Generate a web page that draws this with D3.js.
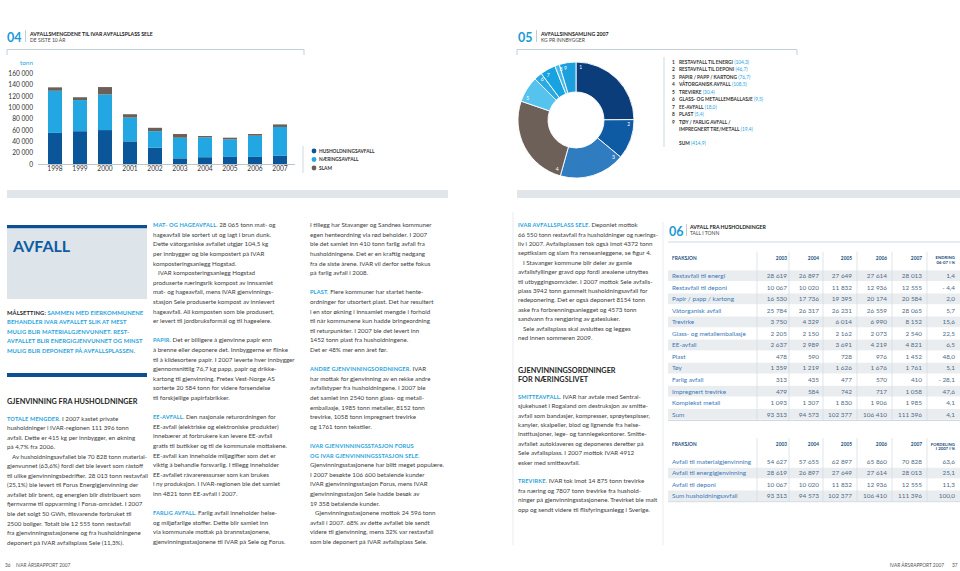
<!DOCTYPE html>
<html><head><meta charset="utf-8">
<script src="https://cdn.jsdelivr.net/npm/d3@7"></script>
<style>
body{margin:0;background:#fff}
svg{display:block;background:#fff}
text{font-family:Lato,"Noto Sans",sans-serif}
.body{font-size:6.2px;fill:#3c3c3c}
.rh{font-weight:700;fill:#27a3dc;font-size:5.6px;letter-spacing:0.15px}
.goal{font-weight:700;font-size:5.8px;fill:#27a3dc;letter-spacing:0.1px}
.hd{font-weight:700;font-size:7.3px;fill:#1e1e1e}
.small{font-size:4.8px;font-weight:700;fill:#333}
</style>
</head><body><svg id="c" width="960" height="571"></svg>
<script>
// ---------- DATA ----------
const years = ["1998","1999","2000","2001","2002","2003","2004","2005","2006","2007"];
const husholdning = [55000,58000,60000,40000,29000,10000,12000,12500,12500,15000];
const naering     = [74500,55000,63000,42000,29000,36500,35000,31000,37500,50500];
const slam        = [6000,5000,13000,6000,6000,6500,2500,3000,3000,4500];
const yTicks = [0,20000,40000,60000,80000,100000,120000,140000,160000];
const barLegend = ["HUSHOLDNINGSAVFALL","NÆRINGSAVFALL","SLAM"];

const donutNames = ["RESTAVFALL TIL ENERGI","RESTAVFALL TIL DEPONI","PAPIR / PAPP / KARTONG","VÅTORGANISK AVFALL","TREVIRKE","GLASS- OG METALLEMBALLASJE","EE-AVFALL","PLAST","TØY / FARLIG AVFALL /|IMPREGNERT TRE/METALL"];
const donutValues = [104.3,46.7,76.7,108.5,30.4,9.5,18.0,5.4,19.4];
const donutSum = 414.9;

const tableYears = ["2003","2004","2005","2006","2007"];
const t1Fractions = ["Restavfall til energi","Restavfall til deponi","Papir / papp / kartong","Våtorganisk avfall","Trevirke","Glass- og metallemballasje","EE-avfall","Plast","Tøy","Farlig avfall","Impregnert trevirke","Komplekst metall","Sum"];
const t1_2003 = [28619,10067,16530,25784,3750,2205,2637,478,1359,313,479,1093,93313];
const t1_2004 = [26897,10020,17736,26317,4329,2150,2989,590,1219,435,584,1307,94573];
const t1_2005 = [27649,11832,19395,26231,6014,2162,3691,728,1626,477,742,1830,102377];
const t1_2006 = [27614,12936,20174,26559,6990,2073,4219,976,1676,570,717,1906,106410];
const t1_2007 = [28013,12555,20584,28065,8152,2540,4821,1452,1761,410,1058,1985,111396];
const t1_endring = [1.4,-4.4,2.0,5.7,15.6,22.5,6.5,48.0,5.1,-28.1,47.6,4.1,4.1];

const t2Fractions = ["Avfall til materialgjenvinning","Avfall til energigjenvinning","Avfall til deponi","Sum husholdningsavfall"];
const t2_2003 = [54627,28619,10067,93313];
const t2_2004 = [57655,26897,10020,94573];
const t2_2005 = [62897,27649,11832,102377];
const t2_2006 = [65860,27614,12936,106410];
const t2_2007 = [70828,28013,12555,111396];
const t2_fordeling = [63.6,25.1,11.3,100.0];

// ---------- TEXT ----------
const goalLines = ["MÅLSETTING:| SAMMEN MED EIERKOMMUNENE","BEHANDLER IVAR AVFALLET SLIK AT MEST","MULIG BLIR MATERIALGJENVUNNET. REST-","AVFALLET BLIR ENERGIGJENVUNNET OG MINST","MULIG BLIR DEPONERT PÅ AVFALLSPLASSEN."];
const col1 = [
"§TOTALE MENGDER.§ I 2007 kastet private",
"husholdninger i IVAR-regionen 111 396 tonn",
"avfall. Dette er 415 kg per innbygger, en økning",
"på 4,7% fra 2006.",
">Av husholdningsavfallet ble 70 828 tonn material-",
"gjenvunnet (63,6%) fordi det ble levert som råstoff",
"til ulike gjenvinningsbedrifter. 28 013 tonn restavfall",
"(25,1%) ble levert til Forus Energigjenvinning der",
"avfallet blir brent, og energien blir distribuert som",
"fjernvarme til oppvarming i Forus-området. I 2007",
"ble det solgt 50 GWh, tilsvarende forbruket til",
"2500 boliger. Totalt ble 12 555 tonn restavfall",
"fra gjenvinningsstasjonene og fra husholdningene",
"deponert på IVAR avfallsplass Sele (11,3%)."];
const col2 = [
"§MAT- OG HAGEAVFALL.§ 28 065 tonn mat- og",
"hageavfall ble sortert ut og lagt i brun dunk.",
"Dette våtorganiske avfallet utgjør 104,5 kg",
"per innbygger og ble kompostert på IVAR",
"komposteringsanlegg Hogstad.",
">IVAR komposteringsanlegg Hogstad",
"produserte næringsrik kompost av innsamlet",
"mat- og hageavfall, mens IVAR gjenvinnings-",
"stasjon Sele produserte kompost av innlevert",
"hageavfall. All komposten som ble produsert,",
"er levert til jordbruksformål og til hageeiere.",
"",
"§PAPIR.§ Det er billigere å gjenvinne papir enn",
"å brenne eller deponere det. Innbyggerne er flinke",
"til å kildesortere papir. I 2007 leverte hver innbygger",
"gjennomsnittlig 76,7 kg papp, papir og drikke-",
"kartong til gjenvinning. Fretex Vest-Norge AS",
"sorterte 20 584 tonn for videre forsendelse",
"til forskjellige papirfabrikker.",
"",
"§EE-AVFALL.§ Den nasjonale returordningen for",
"EE-avfall (elektriske og elektroniske produkter)",
"innebærer at forbrukere kan levere EE-avfall",
"gratis til butikker og til de kommunale mottakene.",
"EE-avfall kan inneholde miljøgifter som det er",
"viktig å behandle forsvarlig. I tillegg inneholder",
"EE-avfallet råvareressurser som kan brukes",
"i ny produksjon. I IVAR-regionen ble det samlet",
"inn 4821 tonn EE-avfall i 2007.",
"",
"§FARLIG AVFALL.§ Farlig avfall inneholder helse-",
"og miljøfarlige stoffer. Dette blir samlet inn",
"via kommunale mottak på brannstasjonene,",
"gjenvinningsstasjonene til IVAR på Sele og Forus."];
const col3 = [
"I tillegg har Stavanger og Sandnes kommuner",
"egen henteordning via rød beholder. I 2007",
"ble det samlet inn 410 tonn farlig avfall fra",
"husholdningene. Det er en kraftig nedgang",
"fra de siste årene. IVAR vil derfor sette fokus",
"på farlig avfall i 2008.",
"",
"§PLAST.§ Flere kommuner har startet hente-",
"ordninger for utsortert plast. Det har resultert",
"i en stor økning i innsamlet mengde i forhold",
"til når kommunene kun hadde bringeordning",
"til returpunkter. I 2007 ble det levert inn",
"1452 tonn plast fra husholdningene.",
"Det er 48% mer enn året før.",
"",
"§ANDRE GJENVINNINGSORDNINGER.§ IVAR",
"har mottak for gjenvinning av en rekke andre",
"avfallstyper fra husholdningene. I 2007 ble",
"det samlet inn 2540 tonn glass- og metall-",
"emballasje, 1985 tonn metaller, 8152 tonn",
"trevirke, 1058 tonn impregnert trevirke",
"og 1761 tonn tekstiler.",
"",
"§IVAR GJENVINNINGSSTASJON FORUS§",
"§OG IVAR GJENVINNINGSSTASJON SELE.§",
"Gjenvinningsstasjonene har blitt meget populære.",
"I 2007 besøkte 106 600 betalende kunder",
"IVAR gjenvinningsstasjon Forus, mens IVAR",
"gjenvinningsstasjon Sele hadde besøk av",
"19 358 betalende kunder.",
">Gjenvinningsstasjonene mottok 24 596 tonn",
"avfall i 2007. 68% av dette avfallet ble sendt",
"videre til gjenvinning, mens 32% var restavfall",
"som ble deponert på IVAR avfallsplass Sele."];
const col4a = [
"§IVAR AVFALLSPLASS SELE.§ Deponiet mottok",
"66 550 tonn restavfall fra husholdninger og nærings-",
"liv i 2007. Avfallsplassen tok også imot 4372 tonn",
"septikslam og slam fra renseanleggene, se figur 4.",
">I Stavanger kommune blir deler av gamle",
"avfallsfyllinger gravd opp fordi arealene utnyttes",
"til utbyggingsområder. I 2007 mottok Sele avfalls-",
"plass 3942 tonn gammelt husholdningsavfall for",
"redeponering. Det er også deponert 8154 tonn",
"aske fra forbrenningsanlegget og 4573 tonn",
"sandvann fra rengjøring av gatesluker.",
">Sele avfallsplass skal avsluttes og legges",
"ned innen sommeren 2009."];
const col4b = [
"§SMITTEAVFALL.§ IVAR har avtale med Sentral-",
"sjukehuset i Rogaland om destruksjon av smitte-",
"avfall som bandasjer, kompresser, sprøytespisser,",
"kanyler, skalpeller, blod og lignende fra helse-",
"institusjoner, lege- og tannlegekontorer. Smitte-",
"avfallet autoklaveres og deponeres deretter på",
"Sele avfallsplass. I 2007 mottok IVAR 4912",
"esker med smitteavfall.",
"",
"§TREVIRKE.§ IVAR tok imot 14 875 tonn trevirke",
"fra næring og 7807 tonn trevirke fra hushold-",
"ninger på gjenvinningsstasjonene. Trevirket ble malt",
"opp og sendt videre til flisfyringsanlegg i Sverige."];

// ---------- HELPERS ----------
const svg = d3.select("#c");
const C = {navy:"#0a3d7a", dark:"#0b5599", light:"#22a7e3", slam:"#6b5f58", cyan:"#27a3dc", num:"#1a9ad6", line:"#c3cfd9", band:"#e1e6ea"};
const sp = s => s.replace(/,/g, " ");
const fmtInt = v => sp(d3.format(",")(v));
const fmtDec = v => (v < 0 ? "- " : "") + d3.format(".1f")(Math.abs(v)).replace(".", ",");

function drawLines(x, y0, lh, lines, maxW) {
  const g = svg.append("g");
  lines.forEach((ln, i) => {
    if (!ln) return;
    let indent = 0, s = ln;
    if (s[0] === ">") { indent = 5; s = s.slice(1); }
    const t = g.append("text").attr("class","body").attr("x", x + indent).attr("y", y0 + i*lh);
    s.split("§").forEach((p, k) => { if (p) t.append("tspan").attr("class", k%2 ? "rh" : null).text(p); });
    const w = t.node().getComputedTextLength();
    if (w > maxW - indent) t.attr("textLength", maxW - indent).attr("lengthAdjust","spacingAndGlyphs");
  });
}
function figTitle(x, num, t1, t2) {
  svg.append("text").attr("x", x).attr("y", 41.5).attr("font-size", 12.5).attr("font-weight", 700).attr("fill", C.num).text(num);
  svg.append("line").attr("x1", x+18.5).attr("x2", x+18.5).attr("y1", 30).attr("y2", 42).attr("stroke", "#9aa9b5").attr("stroke-width", 0.6);
  svg.append("text").attr("x", x+23).attr("y", 35.5).attr("font-size", 5.2).attr("font-weight", 700).attr("fill", "#222").text(t1);
  svg.append("text").attr("x", x+23).attr("y", 41.8).attr("font-size", 5).attr("fill", "#444").text(t2);
}
function boxTop(x1, x2) {
  svg.append("path").attr("d", `M${x1},55V49.5H${x2}V55`).attr("fill","none").attr("stroke", C.line).attr("stroke-width", 1);
}

// ---------- FIGURE 04: stacked bars ----------
figTitle(7, "04", "AVFALLSMENGDENE TIL IVAR AVFALLSPLASS SELE", "DE SISTE 10 ÅR");
boxTop(7, 304);
const x = d3.scaleBand().domain(years).range([42.5, 292.5]).paddingInner(0.44).paddingOuter(0.22);
const y = d3.scaleLinear().domain([0, 160000]).range([164, 73.5]);
const rows = years.map((yr, i) => ({year: yr, h: husholdning[i], n: naering[i], s: slam[i]}));
const stack = d3.stack().keys(["h","n","s"])(rows);
const barCol = {h: C.dark, n: C.light, s: C.slam};
svg.append("g").selectAll("g").data(stack).join("g").attr("fill", d => barCol[d.key])
  .selectAll("rect").data(d => d).join("rect")
  .attr("x", d => x(d.data.year)).attr("width", x.bandwidth())
  .attr("y", d => y(d[1])).attr("height", d => y(d[0]) - y(d[1]));
const ya = svg.append("g").attr("transform", "translate(33,0)")
  .call(d3.axisLeft(y).tickValues(yTicks).tickSize(0).tickPadding(0).tickFormat(fmtInt));
ya.select(".domain").remove();
ya.selectAll("text").attr("font-family", "Lato").attr("font-size", 6.6).attr("fill", "#333");
svg.append("text").attr("x", 33).attr("y", 65).attr("text-anchor","end").attr("font-size", 6.4).attr("fill", C.cyan).text("tonn");
svg.append("line").attr("x1", 38).attr("x2", 295).attr("y1", 164.5).attr("y2", 164.5).attr("stroke", "#a9b6c0").attr("stroke-width", 0.8);
const xa = svg.append("g").attr("transform", "translate(0,168)").call(d3.axisBottom(x).tickSize(0).tickPadding(0));
xa.select(".domain").remove();
xa.selectAll("text").attr("font-family", "Lato").attr("font-size", 6.6).attr("fill", "#333").attr("dy", "0.5em");
svg.append("line").attr("x1", 303).attr("x2", 303).attr("y1", 146).attr("y2", 173).attr("stroke", C.line).attr("stroke-width", 0.8);
barLegend.forEach((t, i) => {
  const cy = 151 + i*8.5;
  svg.append("circle").attr("cx", 314).attr("cy", cy).attr("r", 2.4).attr("fill", [C.dark, C.light, C.slam][i]);
  svg.append("text").attr("class","small").attr("x", 319).attr("y", cy + 1.7).text(t);
});
svg.append("rect").attr("x", 7).attr("y", 190).attr("width", 441).attr("height", 8).attr("fill", C.band);

// ---------- FIGURE 05: donut ----------
figTitle(518, "05", "AVFALLSINNSAMLING 2007", "KG PR INNBYGGER");
boxTop(517, 797);
const donutColors = [C.navy, "#0e5aa3", "#2f7cc0", "#6d6059", "#56c2ee", "#2aa9e2", "#18a3e0", "#45b8ea", "#1e9fdd"];
const pie = d3.pie().sort(null).value(d => d)(donutValues);
const arc = d3.arc().innerRadius(28).outerRadius(58);
const dg = svg.append("g").attr("transform", "translate(576,120)");
dg.selectAll("path").data(pie).join("path").attr("d", arc).attr("fill", (d, i) => donutColors[i]).attr("stroke", "#fff").attr("stroke-width", 0.9);
dg.selectAll("text").data(pie).join("text")
  .attr("x", d => 53*Math.sin(d.startAngle + 0.09)).attr("y", d => -53*Math.cos(d.startAngle + 0.09) + 1.8)
  .attr("text-anchor","middle").attr("font-size", 5).attr("fill", "#fff").text((d, i) => i + 1);
svg.append("line").attr("x1", 664).attr("x2", 664).attr("y1", 57).attr("y2", 147).attr("stroke", C.line).attr("stroke-width", 0.8);
let ly = 64;
donutNames.forEach((nm, i) => {
  const parts = nm.split("|");
  svg.append("text").attr("class","small").attr("x", 672).attr("y", ly).text(i + 1);
  parts.forEach((p, k) => {
    const t = svg.append("text").attr("class","small").attr("x", 679).attr("y", ly).text(p);
    if (k === parts.length - 1) t.append("tspan").attr("fill", C.cyan).attr("font-weight", 400).text(" (" + fmtDec(donutValues[i]) + ")");
    ly += 7.45;
  });
});
svg.append("text").attr("class","small").attr("x", 679).attr("y", 145).text("SUM").append("tspan").attr("fill", C.cyan).attr("font-weight", 400).text(" (" + fmtDec(donutSum) + ")");
svg.append("rect").attr("x", 517).attr("y", 190).attr("width", 443).attr("height", 8).attr("fill", C.band);

// ---------- LEFT PAGE TEXT ----------
svg.append("rect").attr("x", 7).attr("y", 225).attr("width", 140).attr("height", 3.5).attr("fill", "#0d4f92");
svg.append("rect").attr("x", 7).attr("y", 228.5).attr("width", 140).attr("height", 70.5).attr("fill", "#dde4ea");
svg.append("text").attr("x", 13).attr("y", 252).attr("font-size", 16).attr("font-weight", 700).attr("fill", "#0d5ca3").text("AVFALL");
goalLines.forEach((ln, i) => {
  const t = svg.append("text").attr("class","goal").attr("x", 7).attr("y", 314.8 + i*9.5);
  ln.split("|").forEach((p, k) => t.append("tspan").attr("fill", (k === 0 && ln.includes("|")) ? "#262626" : null).text(p));
  if (t.node().getComputedTextLength() > 140) t.attr("textLength", 140).attr("lengthAdjust","spacingAndGlyphs");
});
svg.append("rect").attr("x", 7).attr("y", 373).attr("width", 140).attr("height", 4).attr("fill", "#0d4f92");
svg.append("text").attr("class","hd").attr("x", 7).attr("y", 404.3).text("GJENVINNING FRA HUSHOLDNINGER");
drawLines(7, 420.5, 9.55, col1, 141);
drawLines(153, 227.2, 9.6, col2, 154);
drawLines(310, 227.2, 9.6, col3, 157);

// ---------- RIGHT PAGE TEXT ----------
svg.append("line").attr("x1", 513).attr("x2", 513).attr("y1", 212).attr("y2", 545).attr("stroke", "#e1e6ea").attr("stroke-width", 0.8);
svg.append("line").attr("x1", 663).attr("x2", 663).attr("y1", 222).attr("y2", 545).attr("stroke", "#e1e6ea").attr("stroke-width", 0.8);
drawLines(518, 227.2, 9.4, col4a, 140);
svg.append("text").attr("class","hd").attr("x", 518).attr("y", 372.6).text("GJENVINNINGSORDNINGER");
svg.append("text").attr("class","hd").attr("x", 518).attr("y", 382.1).text("FOR NÆRINGSLIVET");
drawLines(518, 398.7, 9.4, col4b, 140);

// ---------- TABLES ----------
svg.append("text").attr("x", 669).attr("y", 235.5).attr("font-size", 12.5).attr("font-weight", 700).attr("fill", C.num).text("06");
svg.append("line").attr("x1", 686.5).attr("x2", 686.5).attr("y1", 224).attr("y2", 236).attr("stroke", "#9aa9b5").attr("stroke-width", 0.6);
svg.append("text").attr("x", 690).attr("y", 229).attr("font-size", 5.2).attr("font-weight", 700).attr("fill", "#222").text("AVFALL FRA HUSHOLDNINGER");
svg.append("text").attr("x", 690).attr("y", 235.3).attr("font-size", 5).attr("fill", "#444").text("TALL I TONN");
svg.append("line").attr("x1", 668).attr("x2", 960).attr("y1", 242).attr("y2", 242).attr("stroke", C.line).attr("stroke-width", 0.8);

const colRight = [787, 819, 852, 887, 922, 955];
const sepX = [757, 789, 823, 857, 892, 927];
function table(top, rowY0, rowH, labels, cols, lastHead, shadeOdd, bottom) {
  const g = svg.append("g");
  labels.forEach((lab, i) => {
    const cy = rowY0 + i*rowH;
    if ((i % 2 === 0) === shadeOdd) g.append("rect").attr("x", 668).attr("y", cy - rowH/2 + 0.4).attr("width", 292).attr("height", rowH - 0.8).attr("fill", "#eaedf0");
  });
  sepX.forEach(sx => g.append("line").attr("x1", sx).attr("x2", sx).attr("y1", top - 6).attr("y2", bottom).attr("stroke", "#d3dae0").attr("stroke-width", 0.7));
  g.append("text").attr("x", 672).attr("y", top + 1.8).attr("font-size", 4.8).attr("font-weight", 700).attr("fill", "#1d4f80").text("FRAKSJON");
  tableYears.forEach((yr, j) => g.append("text").attr("x", colRight[j]).attr("y", top + 1.8).attr("text-anchor","end").attr("font-size", 4.8).attr("font-weight", 700).attr("fill", "#1d4f80").text(yr));
  lastHead.forEach((h, k) => g.append("text").attr("x", colRight[5]).attr("y", top + 1.5 + k*4.8).attr("text-anchor","end").attr("font-size", 4.3).attr("font-weight", 700).attr("fill", "#1d4f80").text(h));
  labels.forEach((lab, i) => {
    const by = rowY0 + i*rowH + 2.3;
    g.append("text").attr("x", 672).attr("y", by).attr("font-size", 6.4).attr("fill", "#3a78b8").text(lab);
    cols.forEach((arr, j) => g.append("text").attr("x", colRight[j]).attr("y", by).attr("text-anchor","end").attr("font-size", 6.4).attr("fill", "#4f6b86").text(j < 5 ? fmtInt(arr[i]) : fmtDec(arr[i])));
  });
  g.append("line").attr("x1", 668).attr("x2", 960).attr("y1", bottom).attr("y2", bottom).attr("stroke", C.line).attr("stroke-width", 0.8);
}
table(257.7, 275.7, 11.55, t1Fractions, [t1_2003, t1_2004, t1_2005, t1_2006, t1_2007, t1_endring], ["ENDRING","06-07 I %"], true, 420.5);
table(444, 461.7, 11.35, t2Fractions, [t2_2003, t2_2004, t2_2005, t2_2006, t2_2007, t2_fordeling], ["FORDELING","I 2007 I %"], false, 501.7);

// ---------- FOOTER ----------
svg.append("text").attr("x", 5).attr("y", 567).attr("font-size", 4.8).attr("fill", "#555").text("36");
svg.append("text").attr("x", 16).attr("y", 567).attr("font-size", 4.8).attr("fill", "#555").text("IVAR ÅRSRAPPORT 2007");
svg.append("text").attr("x", 944).attr("y", 567).attr("text-anchor","end").attr("font-size", 4.8).attr("fill", "#555").text("IVAR ÅRSRAPPORT 2007");
svg.append("text").attr("x", 952).attr("y", 567).attr("font-size", 4.8).attr("fill", "#555").text("37");
</script></body></html>
